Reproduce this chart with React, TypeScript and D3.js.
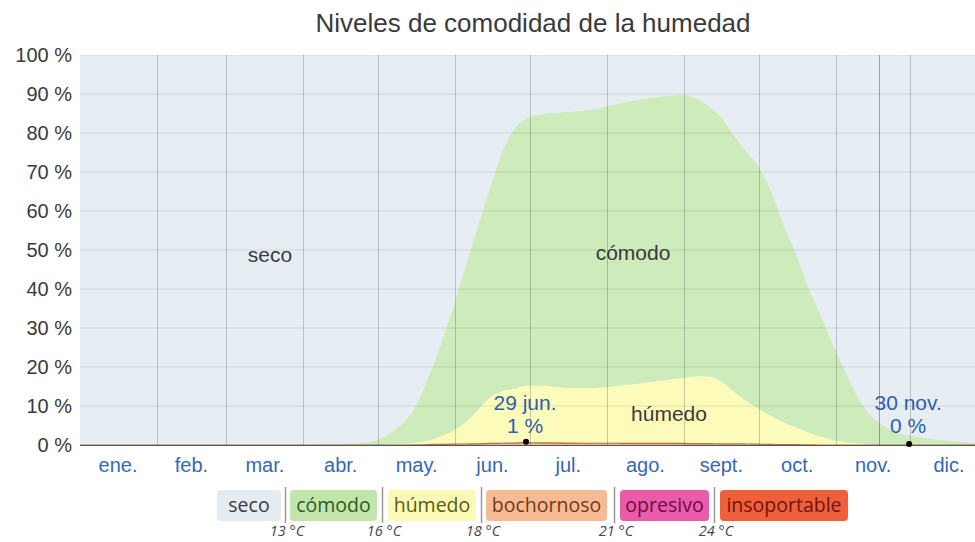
import React from 'react';
import * as d3 from 'd3';

// Day of year (0 = 1 Jan) of each reading
const days = [0, 30, 60, 90, 100, 110, 115, 120, 125, 130, 135, 140, 145, 150, 155, 160, 165, 170, 175, 179, 185, 195, 205, 215, 225, 235, 242, 248, 253, 258, 263, 268, 273, 278, 283, 288, 293, 298, 303, 308, 313, 318, 323, 328, 334, 340, 350, 364];

// Percentage of days in each comfort level
const comodo = [0, 0, 0, 0, 0.1, 0.4, 0.6, 1.3, 2.9, 5.4, 9.1, 15.8, 23.2, 31.2, 39.5, 46.8, 53.6, 61.3, 66.7, 68.2, 69.4, 70.6, 71.3, 72.1, 72.7, 72.8, 72.6, 71.2, 69.2, 67.7, 65.5, 64, 62, 57.4, 50.5, 44.4, 37.3, 30.9, 24.2, 17.7, 11.6, 7.4, 5, 3.2, 2.3, 1.7, 1, 0.3];
const humedo = [0, 0, 0, 0, 0, 0, 0, 0, 0.1, 0.3, 0.55, 1.0, 2.0, 3.4, 5.5, 8.6, 11.7, 13.4, 13.9, 14.6, 14.7, 14.2, 14.15, 14.7, 15.4, 16.2, 16.75, 17.3, 17.2, 15.95, 13.5, 11.05, 9.1, 7.3, 5.75, 4.45, 3.15, 2.1, 1.3, 0.8, 0.4, 0.1, 0, 0, 0, 0, 0, 0];
const bochornoso = [0, 0, 0, 0, 0, 0, 0, 0, 0, 0, 0.03, 0.1, 0.15, 0.2, 0.25, 0.3, 0.4, 0.45, 0.5, 0.6, 0.55, 0.5, 0.45, 0.45, 0.4, 0.4, 0.4, 0.35, 0.35, 0.3, 0.3, 0.25, 0.2, 0.15, 0.1, 0.08, 0.03, 0, 0, 0, 0, 0, 0, 0, 0, 0, 0, 0];

const monthLabels = ['ene.', 'feb.', 'mar.', 'abr.', 'may.', 'jun.', 'jul.', 'ago.', 'sept.', 'oct.', 'nov.', 'dic.'];
const monthStarts = [0, 31, 59, 90, 120, 151, 181, 212, 243, 273, 304, 334, 365];
const yTicks = [0, 10, 20, 30, 40, 50, 60, 70, 80, 90, 100];

const legendLabels = ['seco', 'cómodo', 'húmedo', 'bochornoso', 'opresivo', 'insoportable'];
const legendThresholds = ['13 °C', '16 °C', '18 °C', '21 °C', '24 °C'];

const annotationDays = [179, 333];
const annotationDates = ['29 jun.', '30 nov.'];
const annotationValues = [0.6, 0];
const annotationTexts = ['1 %', '0 %'];

const todayDay = 321.5;

const W = 975;
const H = 542;
const plotLeft = 80;
const plotRight = 975;
const plotTop = 55;
const plotBottom = 445;

const fillColors: Record<string, string> = {
  seco: '#E6EEF4',
  comodo: '#CDEBBB',
  humedo: '#FCFBB9',
  bochornoso: '#F3B48E',
};

const legendBox = [
  { x0: 217, x1: 281, bg: '#E4ECF2', fg: '#3a3a3a' },
  { x0: 290, x1: 377, bg: '#C2E5AC', fg: '#2f5a22' },
  { x0: 388, x1: 476, bg: '#FAFAB6', fg: '#5c5a14' },
  { x0: 486, x1: 607, bg: '#F6BB94', fg: '#74381a' },
  { x0: 620, x1: 709, bg: '#E85CAA', fg: '#6e0a44' },
  { x0: 720, x1: 848, bg: '#EF5F3C', fg: '#6e1508' },
];
const sepX = [285, 382, 481, 614, 714];

export default function App() {
  const x = d3.scaleLinear().domain([0, 365]).range([79.5, 987.5]);
  const y = d3.scaleLinear().domain([0, 100]).range([plotBottom, plotTop]);

  const rows = days.map((d, i) => ({ day: d, bochornoso: bochornoso[i], humedo: humedo[i], comodo: comodo[i] }));
  const keys = ['bochornoso', 'humedo', 'comodo'];
  const series = d3.stack<any>().keys(keys)(rows);

  const area = d3
    .area<any>()
    .x((d) => x(d.data.day))
    .y0((d) => y(d[0]))
    .y1((d) => y(d[1]))
    .curve(d3.curveMonotoneX);

  const topLine = d3
    .line<any>()
    .x((d) => x(d.data.day))
    .y((d) => y(d[1]))
    .curve(d3.curveMonotoneX);

  const axisFont = '"Liberation Sans", Arial, sans-serif';
  const legendFont = '"Open Sans", "Noto Sans", sans-serif';

  return (
    <svg width={W} height={H} style={{ position: 'absolute', left: 0, top: 0, display: 'block' }}>
      <defs>
        <clipPath id="plotClip">
          <rect x={plotLeft} y={plotTop} width={plotRight - plotLeft} height={plotBottom - plotTop} />
        </clipPath>
      </defs>
      <rect x={0} y={0} width={W} height={H} fill="#ffffff" />
      <text x={533} y={32} textAnchor="middle" fontFamily={axisFont} fontSize={26} fill="#3a3a3a">
        Niveles de comodidad de la humedad
      </text>

      <g clipPath="url(#plotClip)">
        <rect x={plotLeft} y={plotTop} width={plotRight - plotLeft} height={plotBottom - plotTop} fill={fillColors.seco} />
        {series.map((s) => (
          <path key={s.key} d={area(s) || ''} fill={fillColors[s.key]} />
        ))}
        <path d={topLine(series[0]) || ''} fill="none" stroke="#a0583c" strokeWidth={1.2} strokeOpacity={0.85} />
        {yTicks.filter((t) => t > 0).map((t) => (
          <line key={t} x1={plotLeft} x2={plotRight} y1={y(t)} y2={y(t)} stroke="#000" strokeOpacity={0.1} />
        ))}
        {monthStarts.slice(1, 12).map((m) => (
          <line key={m} x1={Math.round(x(m)) + 0.5} x2={Math.round(x(m)) + 0.5} y1={plotTop} y2={plotBottom} stroke="#000" strokeOpacity={0.2} />
        ))}
        <line x1={Math.round(x(todayDay)) + 0.5} x2={Math.round(x(todayDay)) + 0.5} y1={plotTop} y2={plotBottom} stroke="#000" strokeOpacity={0.32} />
      </g>
      <line x1={plotLeft} x2={plotRight} y1={plotBottom + 0.5} y2={plotBottom + 0.5} stroke="#555" strokeWidth={1} />

      {yTicks.map((t) => (
        <text key={t} x={72} y={y(t) + 7} textAnchor="end" fontFamily={axisFont} fontSize={20} fill="#3a3a3a">
          {`${t} %`}
        </text>
      ))}

      {monthLabels.map((m, i) => (
        <text key={m} x={x((monthStarts[i] + monthStarts[i + 1]) / 2)} y={472} textAnchor="middle" fontFamily={axisFont} fontSize={20} fill="#3567b8">
          {m}
        </text>
      ))}

      <text x={270} y={262} textAnchor="middle" fontFamily={axisFont} fontSize={21} fill="#3a3a3a">seco</text>
      <text x={633} y={260} textAnchor="middle" fontFamily={axisFont} fontSize={21} fill="#3a3a3a">cómodo</text>
      <text x={669} y={421} textAnchor="middle" fontFamily={axisFont} fontSize={21} fill="#3a3a3a">húmedo</text>

      {annotationDays.map((d, i) => (
        <g key={d}>
          <text x={x(d + 0.5) - 1} y={410} textAnchor="middle" fontFamily={axisFont} fontSize={21} fill="#2f5fab">
            {annotationDates[i]}
          </text>
          <text x={x(d + 0.5) - 1} y={433} textAnchor="middle" fontFamily={axisFont} fontSize={21} fill="#2f5fab">
            {annotationTexts[i]}
          </text>
          <circle cx={x(d + 0.5)} cy={y(annotationValues[i]) - 1} r={3} fill="#000" />
        </g>
      ))}

      {legendLabels.map((l, i) => {
        const b = legendBox[i];
        return (
          <g key={l}>
            <rect x={b.x0} y={490} width={b.x1 - b.x0} height={31} rx={4} fill={b.bg} />
            <text x={(b.x0 + b.x1) / 2} y={512} textAnchor="middle" fontFamily={legendFont} fontSize={19.5} fill={b.fg}>
              {l}
            </text>
          </g>
        );
      })}
      {legendThresholds.map((t, i) => (
        <g key={t}>
          <line x1={sepX[i] + 0.5} x2={sepX[i] + 0.5} y1={487} y2={523} stroke="#999" strokeWidth={1.5} />
          <text x={sepX[i] + 2} y={536} textAnchor="middle" fontFamily={legendFont} fontStyle="italic" fontSize={14.5} fill="#444">
            {t}
          </text>
        </g>
      ))}
    </svg>
  );
}
